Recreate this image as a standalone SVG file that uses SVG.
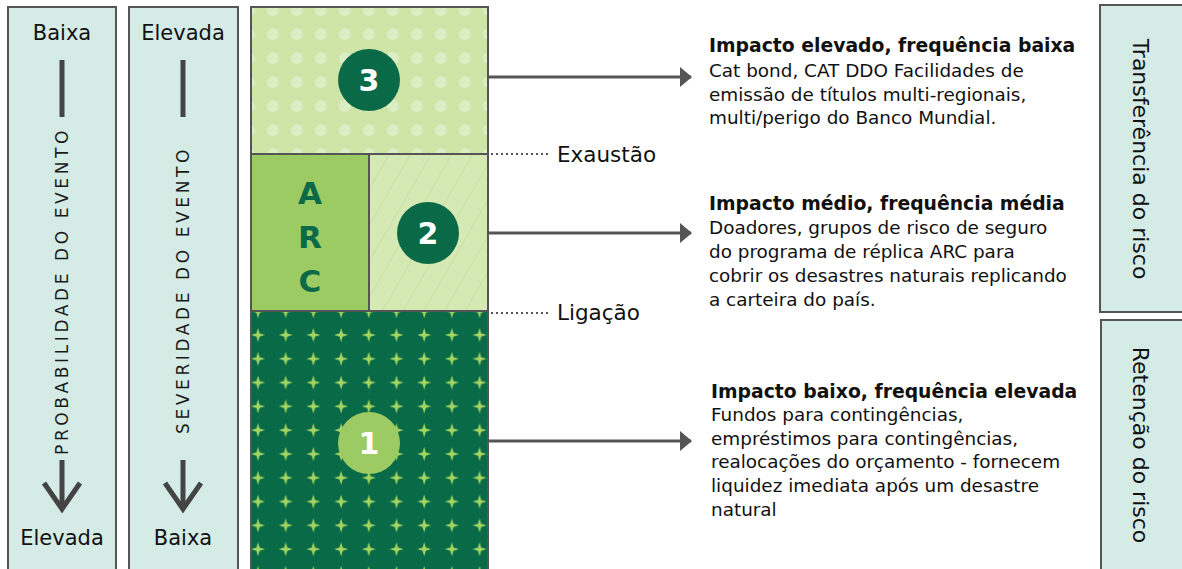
<svg xmlns="http://www.w3.org/2000/svg" width="1182" height="569" viewBox="0 0 1182 569">
<style>
.panel{fill:#d5ebe5;stroke:#555;stroke-width:2}
.lbl{font-family:"DejaVu Sans",sans-serif;font-size:21px;fill:#111;text-anchor:middle}
.vert{font-family:"DejaVu Sans",sans-serif;font-size:17px;fill:#1a1a1a;text-anchor:middle;letter-spacing:3.6px}
.side{font-family:"DejaVu Sans",sans-serif;font-size:22px;fill:#111;text-anchor:middle}
.bar{stroke:#444;stroke-width:5;fill:none}
.conn{stroke:#555;stroke-width:3;fill:none}
.dot{stroke:#555;stroke-width:2;stroke-dasharray:2 3;fill:none}
.num{font-family:"DejaVu Sans",sans-serif;font-weight:bold;font-size:30px;fill:#fff;text-anchor:middle}
.arc{font-family:"DejaVu Sans",sans-serif;font-weight:bold;font-size:31px;fill:#0a6a48;text-anchor:middle}
.head{font-family:"DejaVu Sans",sans-serif;font-weight:bold;font-size:18.8px;fill:#111}
.body{font-family:"DejaVu Sans",sans-serif;font-size:18.4px;fill:#111}
.mark{font-family:"DejaVu Sans",sans-serif;font-size:21.5px;fill:#111}
</style>
<defs>
<pattern id="dots" patternUnits="userSpaceOnUse" x="261" y="-2" width="24" height="24">
<circle cx="12" cy="12" r="6" fill="#dbedc2"/>
</pattern>
<pattern id="hatch" patternUnits="userSpaceOnUse" width="18" height="18" patternTransform="rotate(30)">
<line x1="0" y1="0" x2="0" y2="18" stroke="#c3de98" stroke-width="1.4"/>
</pattern>
<pattern id="stars" patternUnits="userSpaceOnUse" x="244" y="323" width="27.7" height="23.8">
<path d="M14 5 L15.6 10.4 L21 12 L15.6 13.6 L14 19 L12.4 13.6 L7 12 L12.4 10.4 Z" fill="#a3d660"/>
</pattern>
<marker id="ah" markerWidth="12" markerHeight="20" refX="11" refY="10" orient="auto" markerUnits="userSpaceOnUse">
<path d="M0 0 L12 10 L0 20 Z" fill="#555"/>
</marker>
</defs>

<g id="prob-panel">
<rect class="panel" x="8" y="7" width="108" height="570"/>
<text class="lbl" x="62" y="40">Baixa</text>
<line class="bar" x1="62" y1="60" x2="62" y2="117"/>
<text class="vert" transform="translate(68,291) rotate(-90)">PROBABILIDADE DO EVENTO</text>
<line class="bar" x1="62" y1="460" x2="62" y2="508"/>
<polyline class="bar" points="44,483 62,509 80,483"/>
<text class="lbl" x="62" y="545">Elevada</text>
</g>

<g id="sev-panel">
<rect class="panel" x="129" y="7" width="109" height="570"/>
<text class="lbl" x="183" y="40">Elevada</text>
<line class="bar" x1="183" y1="60" x2="183" y2="117"/>
<text class="vert" transform="translate(189,290) rotate(-90)">SEVERIDADE DO EVENTO</text>
<line class="bar" x1="183" y1="460" x2="183" y2="508"/>
<polyline class="bar" points="165,483 183,509 201,483"/>
<text class="lbl" x="183" y="545">Baixa</text>
</g>

<g id="layer-3">
<rect x="251" y="7" width="237" height="147" fill="#cfe5a8"/>
<rect x="251" y="7" width="237" height="147" fill="url(#dots)" stroke="#555" stroke-width="2"/>
<circle cx="369" cy="80" r="31" fill="#0a6a48"/>
<text class="num" x="369" y="91">3</text>
</g>

<g id="layer-2">
<rect x="251" y="154" width="118" height="157" fill="#9dcb63" stroke="#555" stroke-width="2"/>
<text class="arc" x="310" y="204">A</text>
<text class="arc" x="310" y="248">R</text>
<text class="arc" x="310" y="292">C</text>
<rect x="369" y="154" width="119" height="157" fill="#d5e9b4"/>
<rect x="369" y="154" width="119" height="157" fill="url(#hatch)" stroke="#555" stroke-width="2"/>
<circle cx="428" cy="233" r="31" fill="#0a6a48"/>
<text class="num" x="428" y="244">2</text>
</g>

<g id="layer-1">
<rect x="251" y="311" width="237" height="270" fill="#086a47"/>
<rect x="251" y="311" width="237" height="270" fill="url(#stars)" stroke="#555" stroke-width="2"/>
<circle cx="369" cy="443" r="31" fill="#9dcb63"/>
<text class="num" x="369" y="454">1</text>
</g>

<g id="connectors">
<line class="conn" x1="488" y1="77" x2="691" y2="77" marker-end="url(#ah)"/>
<line class="conn" x1="488" y1="233" x2="691" y2="233" marker-end="url(#ah)"/>
<line class="conn" x1="488" y1="441" x2="691" y2="441" marker-end="url(#ah)"/>
<line class="dot" x1="491" y1="154" x2="551" y2="154"/>
<line class="dot" x1="491" y1="313" x2="551" y2="313"/>
</g>

<g id="markers">
<text class="mark" x="557" y="162">Exaustão</text>
<text class="mark" x="557" y="320">Ligação</text>
</g>

<g id="desc-3">
<text class="head" x="709" y="52">Impacto elevado, frequência baixa</text>
<text class="body" x="709" y="77">Cat bond, CAT DDO Facilidades de</text>
<text class="body" x="709" y="101">emissão de títulos multi-regionais,</text>
<text class="body" x="709" y="124">multi/perigo do Banco Mundial.</text>
</g>

<g id="desc-2">
<text class="head" x="709" y="210">Impacto médio, frequência média</text>
<text class="body" x="709" y="234">Doadores, grupos de risco de seguro</text>
<text class="body" x="709" y="258">do programa de réplica ARC para</text>
<text class="body" x="709" y="282">cobrir os desastres naturais replicando</text>
<text class="body" x="709" y="306">a carteira do país.</text>
</g>

<g id="desc-1">
<text class="head" x="711" y="398">Impacto baixo, frequência elevada</text>
<text class="body" x="711" y="421">Fundos para contingências,</text>
<text class="body" x="711" y="445">empréstimos para contingências,</text>
<text class="body" x="711" y="468">realocações do orçamento - fornecem</text>
<text class="body" x="711" y="492">liquidez imediata após um desastre</text>
<text class="body" x="711" y="516">natural</text>
</g>

<g id="transfer-panel">
<rect class="panel" x="1100" y="5" width="90" height="307"/>
<text class="side" transform="translate(1133,159) rotate(90)">Transferência do risco</text>
</g>

<g id="retention-panel">
<rect class="panel" x="1101" y="320" width="90" height="260"/>
<text class="side" transform="translate(1133,445) rotate(90)">Retenção do risco</text>
</g>
</svg>
